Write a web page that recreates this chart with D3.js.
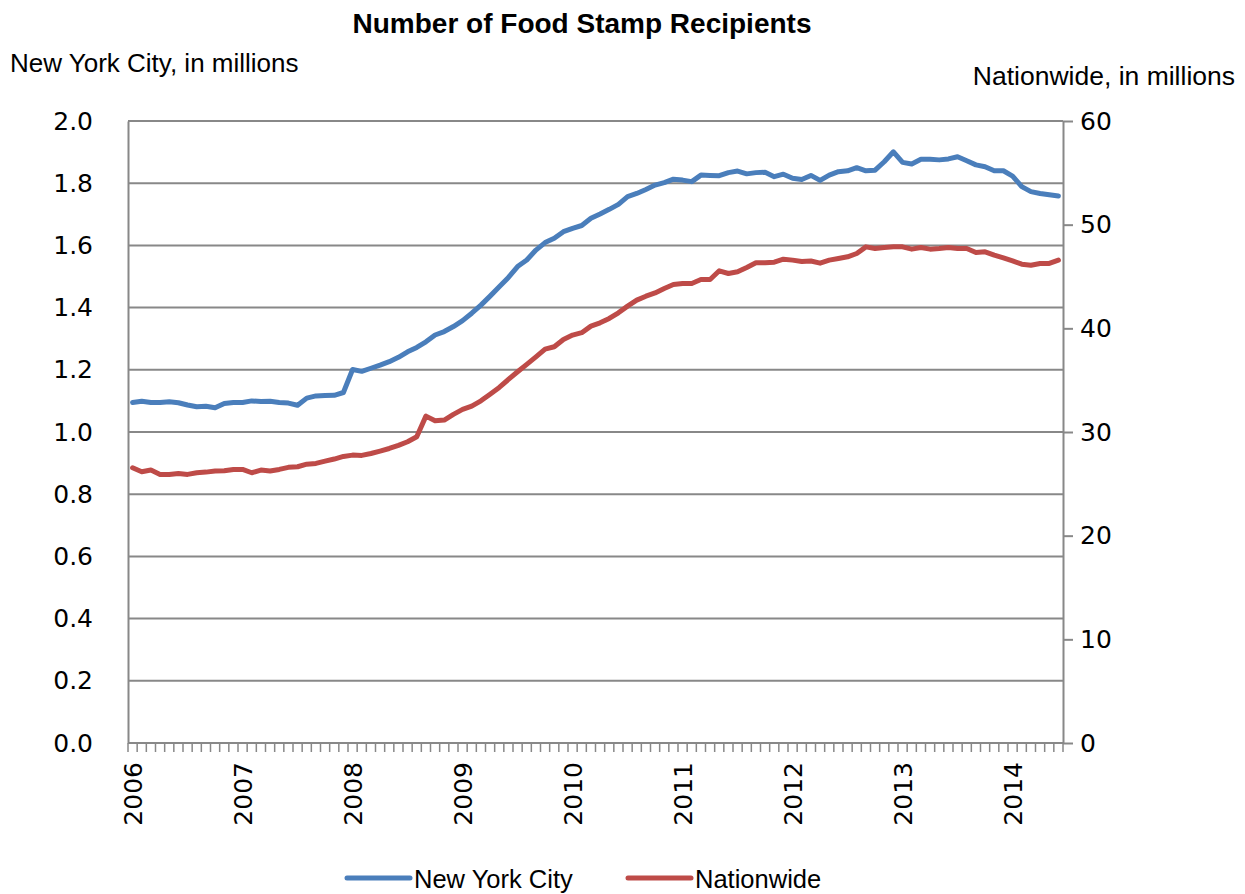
<!DOCTYPE html>
<html>
<head>
<meta charset="utf-8">
<script src="https://cdn.jsdelivr.net/npm/d3@7"></script>
<style>
  html, body { margin: 0; padding: 0; background: #fff; }
  svg { display: block; }
</style>
</head>
<body>
<svg id="chart" width="1245" height="894"></svg>
<script>
// ---------------- DATA ----------------
const years = ["2006","2007","2008","2009","2010","2011","2012","2013","2014"];
const monthsPerYear = 12;
const lastYearMonths = 6; // Jan–Jun 2014

// New York City recipients, millions (monthly, Jan 2006 – Jun 2014)
const nyc = [
  1.095,1.099,1.095,1.095,1.097,1.094,1.087,1.081,1.083,1.078,1.092,1.095,
  1.095,1.100,1.098,1.099,1.095,1.093,1.086,1.109,1.116,1.117,1.118,1.127,
  1.201,1.195,1.205,1.215,1.226,1.240,1.258,1.272,1.290,1.312,1.323,1.339,
  1.358,1.382,1.408,1.437,1.467,1.497,1.532,1.553,1.585,1.609,1.623,1.644,
  1.655,1.664,1.687,1.701,1.716,1.732,1.757,1.767,1.780,1.794,1.802,1.813,
  1.810,1.805,1.826,1.825,1.824,1.834,1.839,1.830,1.834,1.835,1.821,1.829,
  1.816,1.812,1.825,1.809,1.826,1.837,1.840,1.850,1.840,1.842,1.869,1.901,
  1.867,1.862,1.877,1.877,1.875,1.878,1.885,1.872,1.859,1.853,1.840,1.840,
  1.823,1.789,1.773,1.767,1.763,1.759
];

// Nationwide recipients, millions
const nationwide = [
  26.55,26.17,26.33,25.91,25.91,26.00,25.91,26.07,26.13,26.23,26.26,26.39,
  26.39,26.07,26.33,26.23,26.39,26.59,26.65,26.90,26.97,27.19,27.39,27.64,
  27.77,27.74,27.93,28.16,28.41,28.71,29.06,29.54,31.53,31.08,31.15,31.70,
  32.18,32.50,33.01,33.65,34.30,35.07,35.81,36.52,37.25,37.99,38.22,38.93,
  39.35,39.58,40.21,40.53,40.95,41.50,42.14,42.72,43.10,43.42,43.85,44.23,
  44.33,44.33,44.71,44.71,45.55,45.29,45.45,45.87,46.32,46.32,46.38,46.67,
  46.58,46.45,46.50,46.29,46.58,46.74,46.90,47.22,47.86,47.70,47.80,47.86,
  47.86,47.64,47.80,47.64,47.70,47.80,47.70,47.70,47.32,47.38,47.06,46.80,
  46.51,46.19,46.09,46.26,46.26,46.58
];

const leftTicks = [0,0.2,0.4,0.6,0.8,1.0,1.2,1.4,1.6,1.8,2.0];
const rightTicks = [0,10,20,30,40,50,60];

const seriesNames = ["New York City","Nationwide"];
const seriesColors = ["#4a7ebb","#be4b48"];

// categories: months
const categories = [];
years.forEach((y, yi) => {
  const n = (yi === years.length - 1) ? lastYearMonths : monthsPerYear;
  for (let m = 1; m <= n; m++) categories.push(y + "-" + String(m).padStart(2, "0"));
});

// ---------------- LAYOUT ----------------
const svg = d3.select("#chart");
const L = 128, R = 1063, T = 121, B = 743;
const gridColor = "#888888";
const font = "'Liberation Sans', Arial, sans-serif";
const numFont = "'DejaVu Sans', Verdana, sans-serif";

const x = d3.scaleBand().domain(categories).range([L, R]).paddingInner(0).paddingOuter(0);
const yL = d3.scaleLinear().domain([0, 2]).range([B, T]);
const yR = d3.scaleLinear().domain([0, 60]).range([B, T]);
const cx = c => x(c) + x.bandwidth() / 2;

// gridlines
svg.append("g")
  .selectAll("line").data(leftTicks.filter(d => d > 0)).join("line")
  .attr("x1", L).attr("x2", R)
  .attr("y1", d => yL(d)).attr("y2", d => yL(d))
  .attr("stroke", gridColor).attr("stroke-width", 2);

// left axis
const gLeft = svg.append("g").attr("transform", `translate(${L},0)`)
  .call(d3.axisLeft(yL).tickValues(leftTicks).tickFormat(d3.format(".1f")).tickSize(0).tickPadding(35));
gLeft.select(".domain").attr("stroke", gridColor).attr("stroke-width", 2);
gLeft.selectAll("text").attr("font-family", numFont).attr("font-size", 25).attr("fill", "#000");

// right axis
const gRight = svg.append("g").attr("transform", `translate(${R},0)`)
  .call(d3.axisRight(yR).tickValues(rightTicks).tickSize(10).tickPadding(7).tickSizeOuter(0));
gRight.select(".domain").attr("stroke", gridColor).attr("stroke-width", 2);
gRight.selectAll(".tick line").attr("stroke", gridColor).attr("stroke-width", 2);
gRight.selectAll("text").attr("font-family", numFont).attr("font-size", 25).attr("fill", "#000");

// bottom axis: line + monthly ticks at category boundaries
const boundaries = categories.map(c => x(c)).concat([R]);
svg.append("line").attr("x1", L).attr("x2", R).attr("y1", B).attr("y2", B)
  .attr("stroke", gridColor).attr("stroke-width", 2);
svg.append("g").selectAll("line").data(boundaries).join("line")
  .attr("x1", d => d).attr("x2", d => d).attr("y1", B).attr("y2", B + 9)
  .attr("stroke", gridColor).attr("stroke-width", 1.5);

// year labels (rotated) at January of each year
svg.append("g").selectAll("text").data(years).join("text")
  .attr("transform", d => `translate(${cx(d + "-01")},${B + 19}) rotate(-90)`)
  .attr("text-anchor", "end").attr("dy", "0.36em")
  .attr("font-family", numFont).attr("font-size", 25).attr("fill", "#000")
  .text(d => d);

// lines
const lineL = d3.line().x((d, i) => cx(categories[i])).y(d => yL(d));
const lineR = d3.line().x((d, i) => cx(categories[i])).y(d => yR(d));
svg.append("path").datum(nationwide).attr("d", lineR)
  .attr("fill", "none").attr("stroke", seriesColors[1]).attr("stroke-width", 5)
  .attr("stroke-linejoin", "round").attr("stroke-linecap", "round");
svg.append("path").datum(nyc).attr("d", lineL)
  .attr("fill", "none").attr("stroke", seriesColors[0]).attr("stroke-width", 5)
  .attr("stroke-linejoin", "round").attr("stroke-linecap", "round");

// title & axis titles
svg.append("text").attr("x", 582).attr("y", 33).attr("text-anchor", "middle")
  .attr("font-family", font).attr("font-weight", "bold").attr("font-size", 28)
  .text("Number of Food Stamp Recipients");
svg.append("text").attr("x", 10).attr("y", 72)
  .attr("font-family", font).attr("font-size", 26)
  .text("New York City, in millions");
svg.append("text").attr("x", 1235).attr("y", 85).attr("text-anchor", "end")
  .attr("font-family", font).attr("font-size", 26.5)
  .text("Nationwide, in millions");

// legend
const legendItems = [
  {name: seriesNames[0], color: seriesColors[0], x0: 347},
  {name: seriesNames[1], color: seriesColors[1], x0: 628}
];
const lg = svg.append("g");
legendItems.forEach(it => {
  lg.append("line").attr("x1", it.x0).attr("x2", it.x0 + 63).attr("y1", 878).attr("y2", 878)
    .attr("stroke", it.color).attr("stroke-width", 5).attr("stroke-linecap", "round");
  lg.append("text").attr("x", it.x0 + 67).attr("y", 888)
    .attr("font-family", font).attr("font-size", 25.5).text(it.name);
});
</script>
</body>
</html>
